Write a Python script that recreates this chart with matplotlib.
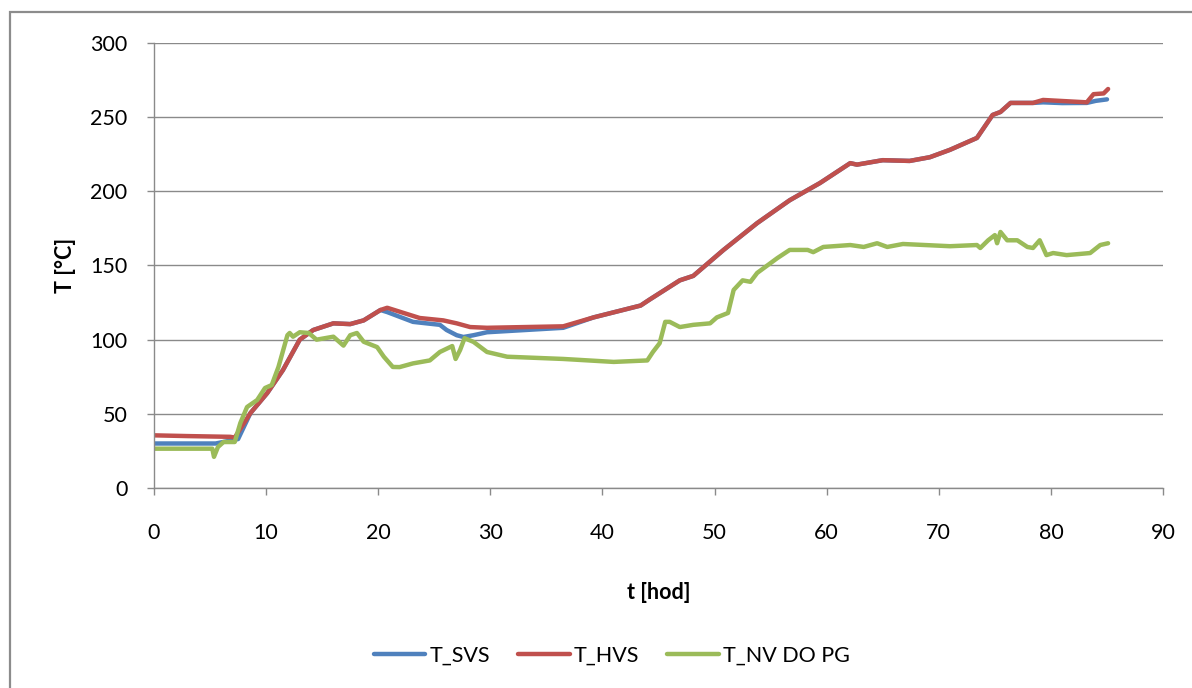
import matplotlib
matplotlib.use("Agg")
from matplotlib import pyplot as plt
from matplotlib import patches

plt.rcParams['font.family'] = ['Lato', 'DejaVu Sans']

# time [h] and temperature [°C] for each measuring point
svs_t = [0, 3, 5.5, 6.5, 7.5, 8.6, 10.1, 11.5, 13.0, 14.2, 16, 17.5, 18.7, 20.2,
         20.8, 23.1, 25.5, 26.1, 27.0, 27.6, 28.5, 29.7, 36.5, 39.2, 43.4, 44.2,
         46.9, 48.1, 50.8, 53.8, 56.7, 59.4, 62.1, 62.7, 65, 67.4, 69.2, 71, 73.4,
         74.8, 75.5, 76.4, 78.4, 79.3, 81, 83.2, 84, 85]
svs_T = [30, 30, 30, 31.5, 33, 50.5, 64, 79.5, 100, 106.5, 111, 110.5, 113, 120,
         118.6, 112, 110, 106.5, 103, 101.8, 103, 105, 108, 115, 123, 127,
         140, 143, 160.5, 178.6, 194, 205.6, 219, 218, 221, 220.5, 223, 228, 236,
         251.5, 253.5, 259.6, 259.6, 260, 259.5, 259.6, 261, 262]

hvs_t = [0, 3, 6.8, 7.2, 8.6, 10.1, 11.5, 13.0, 14.2, 16, 17.5, 18.7, 20.2, 20.8,
         23.7, 25.8, 27.0, 28.2, 29.7, 36.5, 39.2, 43.4, 44.2, 46.9, 48.1, 50.8,
         53.8, 56.7, 59.4, 62.1, 62.7, 65, 67.4, 69.2, 71, 73.4, 74.8, 75.5, 76.4,
         78.4, 79.3, 83.2, 83.8, 84.7, 85.1]
hvs_T = [35.5, 35, 34.5, 34, 50.5, 64, 79.5, 100, 106.5, 111, 110.5, 113, 120, 121.5,
         114.6, 113, 111, 108.5, 108, 109, 115, 123, 127, 140, 143, 160.5,
         178.6, 194, 205.6, 219, 218, 221, 220.5, 223, 228, 236, 251.5, 253.5, 259.6,
         259.6, 261.6, 260, 265.5, 266, 269]

pg_t = [0, 5.2, 5.35, 5.7, 6.2, 7.2, 7.7, 8.3, 9.2, 9.9, 10.5, 11.1, 11.9, 12.1,
        12.4, 13, 13.8, 14.5, 16, 16.9, 17.5, 18.1, 18.7, 19.9, 20.5, 21.3, 21.9,
        23.1, 24.6, 25.5, 26.6, 26.9, 27.3, 27.7, 28.5, 29.7, 31.5, 36.5, 41, 44,
        44.5, 45.1, 45.6, 46, 46.9, 48.1, 49.6, 50.2, 51.2, 51.7, 52.5, 53.2, 53.8,
        54.7, 55.6, 56.7, 58.3, 58.8, 59.7, 62.1, 63.3, 64.5, 65.4, 66.8, 71,
        73.4, 73.7, 74.4, 75, 75.2, 75.5, 76.1, 77, 77.9, 78.4, 79, 79.6, 80.2,
        81.4, 83.5, 84.4, 85.1]
pg_T = [26.5, 26.5, 21, 27.6, 31, 31, 43.8, 54.6, 59.3, 67.4, 69.4, 81.6, 103, 104.5,
        102, 105, 104.5, 100, 102, 96, 103, 104.5, 98.6, 95, 88.5, 81.6, 81.5,
        84, 86, 91.7, 95.7, 87, 93, 101, 98.5, 91.7, 88.5, 87, 85, 86,
        91.7, 97.6, 112, 112, 108.5, 110, 111, 115, 118, 133.5, 140, 139, 145,
        150, 155, 160.5, 160.5, 159, 162.5, 163.8, 162.5, 165, 162.5, 164.5, 163,
        163.8, 161.8, 167, 170.5, 165, 172.6, 167, 167, 162.5, 161.8, 167, 157, 158.4,
        157, 158.4, 163.8, 165]

labels = ['T_SVS', 'T_HVS', 'T_NV DO PG']
colors = ['#4F81BD', '#C0504D', '#9BBB59']
x_ticks = list(range(0, 100, 10))
y_ticks = list(range(0, 350, 50))

fig = plt.figure(figsize=(11.92, 6.88), dpi=100)
ax = fig.add_axes([0.1292, 0.2907, 0.8465, 0.6468])

# chart frame, cut off on the right and at the bottom
frame = patches.Rectangle((10 / 1192, -0.1), 1.2, 0.1 + 1 - 12 / 688,
                          transform=fig.transFigure, fill=False,
                          edgecolor='#8c8c8c', linewidth=1.6, zorder=0)
fig.patches.append(frame)

for t, T, lab, c in zip([svs_t, hvs_t, pg_t], [svs_T, hvs_T, pg_T], labels, colors):
    ax.plot(t, T, color=c, linewidth=3.2, label=lab, solid_capstyle='round',
            solid_joinstyle='round')

ax.set_xlim(0, 90)
ax.set_ylim(0, 300)
ax.set_xticks(x_ticks)
ax.set_yticks(y_ticks)
ax.grid(True, axis='y', color='#8a8a8a', linewidth=1.0)
ax.set_axisbelow(True)

for side in ['top', 'right']:
    ax.spines[side].set_visible(False)
for side in ['left', 'bottom']:
    ax.spines[side].set_color('#8a8a8a')
    ax.spines[side].set_linewidth(1.0)

ax.tick_params(axis='both', colors='#8a8a8a', labelcolor='black',
               labelsize=15.5, length=5, width=1.0, direction='out')
ax.tick_params(axis='x', pad=20)
ax.tick_params(axis='y', pad=14)

ax.set_xlabel('t [hod]', fontsize=15.5, fontweight='bold', labelpad=28)
ax.set_ylabel('T [°C]', fontsize=15.5, fontweight='bold', labelpad=10)

leg = fig.legend(loc='center', bbox_to_anchor=(612 / 1192, 1 - 656 / 688),
                 ncol=3, frameon=False, fontsize=15.5, handlelength=2.4,
                 handletextpad=0.2, columnspacing=1.3)

fig.savefig('out.png', dpi=100)
